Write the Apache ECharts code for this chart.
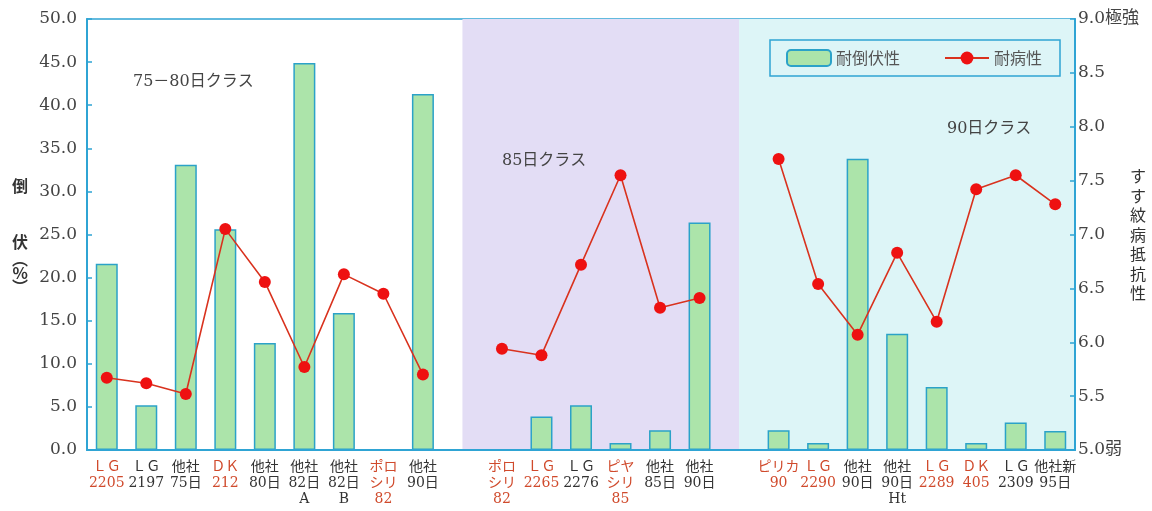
<!DOCTYPE html>
<html>
<head>
<meta charset="utf-8">
<script src="https://cdn.jsdelivr.net/npm/echarts@6/dist/echarts.min.js"></script>
<style>
  html, body { margin: 0; padding: 0; background: #fff; }
  #main { width: 1152px; height: 511px; }
</style>
</head>
<body>
<div id="main"></div>
<script>
// categories, '' = gap between the maturity classes
const varieties = [
  'ＬＧ\n2205', 'ＬＧ\n2197', '他社\n75日', 'ＤＫ\n212', '他社\n80日', '他社\n82日\nA', '他社\n82日\nB', 'ポロ\nシリ\n82', '他社\n90日',
  '',
  'ポロ\nシリ\n82', 'ＬＧ\n2265', 'ＬＧ\n2276', 'ピヤ\nシリ\n85', '他社\n85日', '他社\n90日',
  '',
  'ピリカ\n90', 'ＬＧ\n2290', '他社\n90日', '他社\n90日\nHt', 'ＬＧ\n2289', 'ＤＫ\n405', 'ＬＧ\n2309', '他社新\n95日'
];
// own varieties (red labels)
const ownVariety = [
  true, false, false, true, false, false, false, true, false,
  false,
  true, true, false, true, false, false,
  false,
  true, true, false, false, true, true, false, false
];
// 倒伏 (%)
const lodging = [
  21.6, 5.2, 33.1, 25.6, 12.4, 44.9, 15.9, '-', 41.3,
  '-',
  '-', 3.9, 5.2, 0.8, 2.3, 26.4,
  '-',
  2.3, 0.8, 33.8, 13.5, 7.3, 0.8, 3.2, 2.2
];
// すす紋病抵抗性 (5 弱 ... 9 極強)
const resistance = [
  5.67, 5.62, 5.52, 7.05, 6.56, 5.77, 6.63, 6.45, 5.70,
  null,
  5.94, 5.88, 6.72, 7.55, 6.32, 6.41,
  null,
  7.70, 6.54, 6.07, 6.83, 6.19, 7.42, 7.55, 7.28
];
const classNames = ['75－80日クラス', '85日クラス', '90日クラス'];

const axisColor = '#2fa4d4';
const serif = '"DejaVu Serif","Noto Sans CJK JP",serif';
const cjk = '"Noto Sans CJK JP","DejaVu Serif",serif';

const chart = echarts.init(document.getElementById('main'));

const option = {
  animation: false,
  backgroundColor: '#ffffff',
  grid: {
    left: 87, right: 77, top: 19, bottom: 61,
    outerBoundsMode: 'none',
    containLabel: false,
    show: true, borderColor: axisColor, borderWidth: 1.5, backgroundColor: 'transparent'
  },
  legend: {
    left: 770, top: 40,
    padding: [9, 18, 9, 16],
    borderColor: axisColor, borderWidth: 1.5,
    itemWidth: 44, itemHeight: 16, itemGap: 44,
    textStyle: { fontSize: 16, color: '#555', fontFamily: cjk },
    data: ['耐倒伏性', '耐病性']
  },
  graphic: [
    { type: 'text', left: 133, top: 74, z: 10, style: { text: classNames[0], fontSize: 16, fill: '#444', fontFamily: serif } },
    { type: 'text', left: 502, top: 153, z: 10, style: { text: classNames[1], fontSize: 16, fill: '#444', fontFamily: serif } },
    { type: 'text', left: 947, top: 121, z: 10, style: { text: classNames[2], fontSize: 16, fill: '#444', fontFamily: serif } }
  ],
  xAxis: {
    type: 'category',
    data: varieties,
    z: 5,
    axisLine: { lineStyle: { color: axisColor, width: 2 } },
    axisTick: { inside: true, length: 5, lineStyle: { color: axisColor, width: 1.5 } },
    axisLabel: {
      interval: 0,
      margin: 9,
      lineHeight: 16,
      formatter: (v, i) => {
        if (!v) return '';
        const tag = ownVariety[i] ? 'r' : 'k';
        return v.split('\n').map(s => `{${tag}|${s}}`).join('\n');
      },
      rich: {
        r: { color: '#d04a2c', fontSize: 14, fontFamily: serif, lineHeight: 16 },
        k: { color: '#333', fontSize: 14, fontFamily: serif, lineHeight: 16 }
      }
    }
  },
  yAxis: [
    {
      type: 'value', min: 0, max: 50, interval: 5, z: 5,
      name: '{g|倒}\n{s| }\n{g|伏}\n{p|︵}\n{p|%}\n{p|︶}',
      nameLocation: 'middle', nameRotate: 0, nameGap: 59,
      nameMoveOverlap: false,
      nameTextStyle: {
        rich: {
          g: { fontSize: 16, color: '#333', fontFamily: cjk, lineHeight: 20, fontWeight: 'bold' },
          s: { fontSize: 10, lineHeight: 36 },
          p: { fontSize: 16, color: '#333', fontFamily: cjk, lineHeight: 14, fontWeight: 'bold' }
        }
      },
      axisLine: { show: true, lineStyle: { color: axisColor, width: 2 } },
      axisTick: { show: true, inside: true, length: 5, lineStyle: { color: axisColor, width: 1.5 } },
      splitLine: { show: false },
      axisLabel: { margin: 10, fontSize: 17, color: '#444', fontFamily: serif, formatter: v => v.toFixed(1) }
    },
    {
      type: 'value', min: 5, max: 9, interval: 0.5, z: 5,
      name: 'す\nす\n紋\n病\n抵\n抗\n性',
      nameLocation: 'middle', nameRotate: 0, nameGap: 55,
      nameMoveOverlap: false,
      nameTextStyle: { fontSize: 16, color: '#333', fontFamily: cjk, lineHeight: 19.5 },
      axisLine: { show: true, lineStyle: { color: axisColor, width: 2 } },
      axisTick: { show: true, inside: true, length: 5, lineStyle: { color: axisColor, width: 1.5 } },
      splitLine: { show: false },
      axisLabel: {
        margin: 3, fontSize: 17, color: '#444', fontFamily: serif,
        formatter: v => v.toFixed(1) + (v === 9 ? '極強' : v === 5 ? '弱' : '')
      }
    }
  ],
  series: [
    {
      name: '耐倒伏性',
      type: 'bar',
      data: lodging,
      barWidth: 22,
      itemStyle: { color: '#acE4aa', borderColor: '#2ba2c8', borderWidth: 1.5 }
    },
    {
      name: '耐病性',
      type: 'line',
      yAxisIndex: 1,
      data: resistance,
      connectNulls: false,
      symbol: 'circle',
      symbolSize: 12,
      itemStyle: { color: '#ee1111' },
      lineStyle: { color: '#d9321e', width: 1.6 },
      z: 4,
      markArea: {
        silent: true,
        z: 1,
        label: { show: false },
        data: [
          [{ xAxis: 9, itemStyle: { color: '#e3ddf5', opacity: 1 } }, { xAxis: 16 }],
          [{ xAxis: 16, itemStyle: { color: '#ddf5f7', opacity: 1 } }, {}]
        ]
      }
    }
  ]
};

chart.setOption(option);
</script>
</body>
</html>
